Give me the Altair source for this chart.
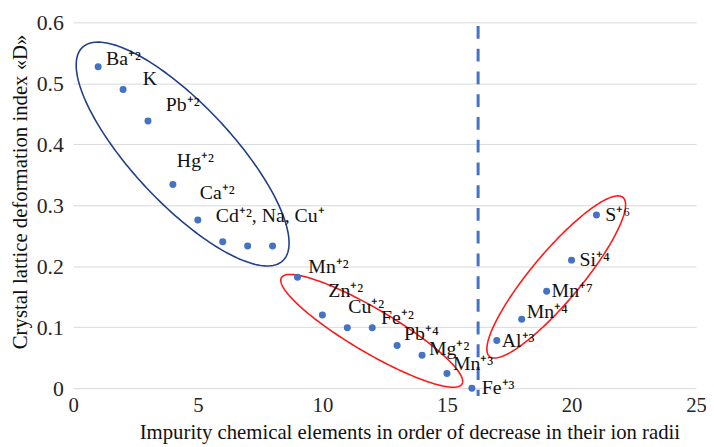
import altair as alt
import pandas as pd
import numpy as np

# ---- data ----
order_no = [1, 2, 3, 4, 5, 6, 7, 8, 9, 10, 11, 12, 13, 14, 15, 16, 17, 18, 19, 20, 21]
index_d = [0.527, 0.490, 0.438, 0.334, 0.276, 0.240, 0.233, 0.233, 0.182, 0.120,
           0.099, 0.099, 0.070, 0.054, 0.024, 0.000, 0.078, 0.113, 0.159, 0.210, 0.284]
labels = ["Ba⁺²", "K", "Pb⁺²", "Hg⁺²", "Ca⁺²", "Cd⁺², Na, Cu⁺", "", "",
          "Mn⁺²", "Zn⁺²", "Cu⁺²", "Fe⁺²", "Pb⁺⁴", "Mg⁺²", "Mn⁺³", "Fe⁺³",
          "Al⁺³", "Mn⁺⁴", "Mn⁺⁷", "Si⁺⁴", "S⁺⁶"]
x_ticks = [0, 5, 10, 15, 20, 25]
y_ticks = [0, 0.1, 0.2, 0.3, 0.4, 0.5, 0.6]
boundary_x = [16.25]
boundary_top = [0.594]
boundary_bottom = [-0.013]

# ---- layout / style ----
W, H = 630, 370
X_DOM, Y_DOM = [0, 25], [0, 0.6]
PPX = W / (X_DOM[1] - X_DOM[0])
PPY = H / (Y_DOM[1] - Y_DOM[0])
FONT = "Liberation Serif"
BLUE = "#4472C4"

# label offsets (dx, dy in px) per point
offsets = {
    0: (8, -8), 1: (20, -10), 2: (18, -16), 3: (4, -24), 4: (2, -27), 5: (-7, -26),
    8: (11, -10), 9: (6, -24), 10: (1, -21), 11: (9, -10), 12: (7, -12), 13: (7, -6),
    14: (6, -10), 15: (10, 0), 16: (5, 0), 17: (5, -7), 18: (5, 0), 19: (8, 0), 20: (9, 0),
}

df = pd.DataFrame({"x": order_no, "d": index_d, "label": labels})

xs = alt.Scale(domain=X_DOM, nice=False, zero=False)
ys = alt.Scale(domain=Y_DOM, nice=False, zero=False)

x_axis = alt.Axis(values=x_ticks, format="d", grid=False, domain=False, ticks=False,
                  labelFlush=False, labelFont=FONT, labelFontSize=21, labelColor="#262626",
                  labelPadding=7,
                  title="Impurity chemical elements in order of decrease in their ion radii",
                  titleFont=FONT, titleFontSize=21, titleFontWeight="normal", titleColor="#111",
                  titleX=340, titleY=45, titleBaseline="middle", titleAlign="center")
y_axis = alt.Axis(values=y_ticks, format="~g", grid=True, gridColor="#D9D9D9", gridWidth=1,
                  domain=False, ticks=False, labelFlush=False, labelFont=FONT, labelFontSize=22,
                  labelColor="#262626", labelPadding=10,
                  title="Crystal lattice deformation index «D»",
                  titleFont=FONT, titleFontSize=21, titleFontWeight="normal", titleColor="#111",
                  titleX=-53, titleY=171, titleBaseline="middle", titleAlign="center")

points = alt.Chart(df).mark_circle(size=50, color=BLUE, opacity=1).encode(
    x=alt.X("x:Q", scale=xs, axis=x_axis),
    y=alt.Y("d:Q", scale=ys, axis=y_axis),
)


def ellipse(cx, cy, a, b, ang_deg, n=240):
    t = np.linspace(0, 2 * np.pi, n)
    th = np.radians(ang_deg)
    px = a * np.cos(t) * np.cos(th) - b * np.sin(t) * np.sin(th)
    py = a * np.cos(t) * np.sin(th) + b * np.sin(t) * np.cos(th)
    return pd.DataFrame({"x": cx + px / PPX, "d": cy - py / PPY, "o": np.arange(n)})


ellipse_specs = [
    ((4.39, 0.384, 148, 50, 46.8), "#1F3F8A"),
    ((11.98, 0.0940, 106, 22, 30.5), "#FF1A1A"),
    ((19.385, 0.1824, 105, 25, -50), "#FF1A1A"),
]
ell_layers = []
for (cx, cy, a, b, ang), col in ellipse_specs:
    e = ellipse(cx, cy, a, b, ang)
    ell_layers.append(
        alt.Chart(e).mark_line(color=col, strokeWidth=1.6).encode(
            x=alt.X("x:Q", scale=xs), y=alt.Y("d:Q", scale=ys), order="o:Q")
    )

rule_df = pd.DataFrame({"x": boundary_x, "y": boundary_top, "y2": boundary_bottom})
rule = alt.Chart(rule_df).mark_rule(color=BLUE, strokeWidth=3, strokeDash=[13, 10]).encode(
    x=alt.X("x:Q", scale=xs), y=alt.Y("y:Q", scale=ys), y2="y2:Q")

text_layers = []
for i, (dx, dy) in offsets.items():
    text_layers.append(
        alt.Chart(df.iloc[[i]]).mark_text(align="left", baseline="middle", dx=dx, dy=dy,
                                          font=FONT, fontSize=20, color="#111").encode(
            x=alt.X("x:Q", scale=xs), y=alt.Y("d:Q", scale=ys), text="label:N")
    )

chart = alt.layer(*ell_layers, rule, points, *text_layers).properties(
    width=W, height=H,
    padding={"left": 66, "top": 12, "right": 10, "bottom": 57},
    autosize=alt.AutoSizeParams(type="none"),
).configure_view(stroke=None)

chart.save("out.html", embed_options={"renderer": "svg", "actions": False})
